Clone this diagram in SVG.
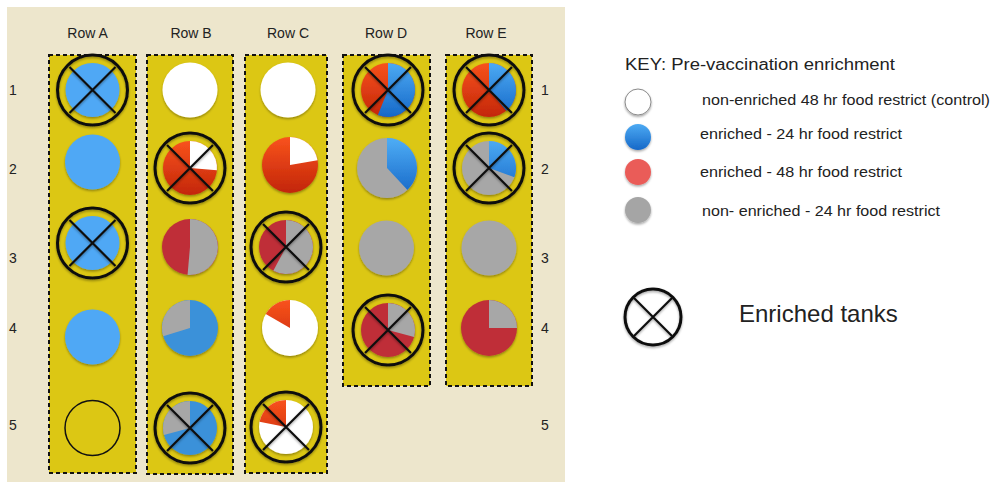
<svg xmlns="http://www.w3.org/2000/svg" width="992" height="482" viewBox="0 0 992 482">
<defs>
<linearGradient id="red" gradientUnits="userSpaceOnUse" x1="0" y1="-27" x2="0" y2="27"><stop offset="0" stop-color="#F8521C"/><stop offset="1" stop-color="#C3260A"/></linearGradient>
<linearGradient id="blue" gradientUnits="userSpaceOnUse" x1="0" y1="-27" x2="0" y2="27"><stop offset="0" stop-color="#4CAAF3"/><stop offset="1" stop-color="#1668C8"/></linearGradient>
<linearGradient id="kblue" gradientUnits="userSpaceOnUse" x1="0" y1="-13" x2="0" y2="13"><stop offset="0" stop-color="#4CAAF3"/><stop offset="1" stop-color="#1668C8"/></linearGradient>
<filter id="sh" x="-30%" y="-30%" width="160%" height="170%"><feDropShadow dx="0" dy="1.5" stdDeviation="1.2" flood-color="#000" flood-opacity="0.35"/></filter>
<g id="ring"><circle r="35" fill="none" stroke="#111" stroke-width="3"/><path d="M-23,-23L23,23M-23,23L23,-23" stroke="#111" stroke-width="2.2"/></g>
</defs>
<style>
.lbl{font-family:"Liberation Sans",Arial,sans-serif;font-size:14px;fill:#222}
.num{font-family:"Liberation Sans",Arial,sans-serif;font-size:14px;fill:#222}
.key{font-family:"Liberation Sans",Arial,sans-serif;fill:#222}
.box{fill:#DCC714;stroke:#111;stroke-width:2;stroke-dasharray:4 3}
.lb{fill:#4FA8F5}
.bf{fill:#3A91D9}
.bg{fill:url(#blue)}
.rg{fill:url(#red)}
.dr{fill:#BF2F38}
.gy{fill:#A7A7A7}
.wh{fill:#FFFFFF}
</style>
<rect x="0" y="0" width="992" height="482" fill="#FFFFFF"/>
<rect x="7" y="7" width="558" height="475" fill="#EDE6CC"/>

<g id="headers">
<text class="lbl" x="87.5" y="38" text-anchor="middle">Row A</text>
<text class="lbl" x="191" y="38" text-anchor="middle">Row B</text>
<text class="lbl" x="288" y="38" text-anchor="middle">Row C</text>
<text class="lbl" x="386" y="38" text-anchor="middle">Row D</text>
<text class="lbl" x="486" y="38" text-anchor="middle">Row E</text>
</g>
<g id="numbers">
<text class="num" x="13" y="95" text-anchor="middle">1</text>
<text class="num" x="13" y="174" text-anchor="middle">2</text>
<text class="num" x="13" y="263" text-anchor="middle">3</text>
<text class="num" x="13" y="333" text-anchor="middle">4</text>
<text class="num" x="13" y="430" text-anchor="middle">5</text>
<text class="num" x="545" y="95" text-anchor="middle">1</text>
<text class="num" x="545" y="174" text-anchor="middle">2</text>
<text class="num" x="545" y="263" text-anchor="middle">3</text>
<text class="num" x="545" y="333" text-anchor="middle">4</text>
<text class="num" x="545" y="430" text-anchor="middle">5</text>
</g>

<g id="boxes">
<rect class="box" x="49" y="55" width="87" height="418"/>
<rect class="box" x="147" y="55" width="86" height="419"/>
<rect class="box" x="245" y="55" width="82" height="418"/>
<rect class="box" x="343" y="55" width="87" height="331"/>
<rect class="box" x="446" y="55" width="86" height="331"/>
</g>

<!-- Column A -->
<g id="A1" transform="translate(92.5,90)"><circle class="lb" r="27" filter="url(#sh)"/><use href="#ring" filter="url(#sh)"/></g>
<g id="A2" transform="translate(92.5,162)"><circle class="lb" r="27.5" filter="url(#sh)"/></g>
<g id="A3" transform="translate(92.5,243)"><circle class="lb" r="27" filter="url(#sh)"/><use href="#ring" filter="url(#sh)"/></g>
<g id="A4" transform="translate(92.5,337)"><circle class="lb" r="27.5" filter="url(#sh)"/></g>
<g id="A5" transform="translate(92.5,428)"><circle r="27.5" fill="none" stroke="#111" stroke-width="1.5"/></g>

<!-- Column B -->
<g id="B1" transform="translate(190,90)"><circle class="wh" r="27.5" filter="url(#sh)"/></g>
<g id="B2" transform="translate(190,168)"><g filter="url(#sh)"><circle class="rg" r="27"/><path class="wh" d="M0,0L0,-27A27,27 0 0 1 26.9,2.35Z"/></g><use href="#ring" filter="url(#sh)"/></g>
<g id="B3" transform="translate(190,247)"><g filter="url(#sh)"><circle class="dr" r="28"/><path class="gy" d="M0,0L0,-28A28,28 0 1 1 -2.44,27.9Z"/></g></g>
<g id="B4" transform="translate(190,328)"><g filter="url(#sh)"><circle class="bf" r="28"/><path class="gy" d="M0,0L-26.78,8.19A28,28 0 0 1 0,-28Z"/></g></g>
<g id="B5" transform="translate(190,428)"><g filter="url(#sh)"><circle class="bf" r="27"/><path class="gy" d="M0,0L-26.08,6.99A27,27 0 0 1 0,-27Z"/></g><use href="#ring" filter="url(#sh)"/></g>

<!-- Column C -->
<g id="C1" transform="translate(288,90)"><circle class="wh" r="27.5" filter="url(#sh)"/></g>
<g id="C2" transform="translate(290,165)"><g filter="url(#sh)"><circle class="rg" r="28"/><path class="wh" d="M0,0L0,-28A28,28 0 0 1 27.57,-4.86Z"/></g></g>
<g id="C3" transform="translate(286,247)"><g filter="url(#sh)"><circle class="dr" r="27"/><path class="gy" d="M0,0L0,-27A27,27 0 1 1 -12.68,23.84Z"/></g><use href="#ring" filter="url(#sh)"/></g>
<g id="C4" transform="translate(290,328)"><g filter="url(#sh)"><circle class="wh" r="28"/><path class="rg" d="M0,0L-24.25,-14A28,28 0 0 1 0,-28Z"/></g></g>
<g id="C5" transform="translate(286,427)"><g filter="url(#sh)"><circle class="wh" r="27"/><path class="rg" d="M0,0L-26.5,-5.15A27,27 0 0 1 0,-27Z"/></g><use href="#ring" filter="url(#sh)"/></g>

<!-- Column D -->
<g id="D1" transform="translate(388,90)"><g filter="url(#sh)"><circle class="rg" r="27"/><path class="bg" d="M0,0L0,-27A27,27 0 1 1 -10.11,25.03Z"/></g><use href="#ring" filter="url(#sh)"/></g>
<g id="D2" transform="translate(387,168)"><g filter="url(#sh)"><circle class="gy" r="30"/><path class="bg" d="M0,0L0,-30A30,30 0 0 1 20.46,21.94Z"/></g></g>
<g id="D3" transform="translate(386.5,248)"><circle class="gy" r="27.5" filter="url(#sh)"/></g>
<g id="D4" transform="translate(388,330)"><g filter="url(#sh)"><circle class="dr" r="27"/><path class="gy" d="M0,0L0,-27A27,27 0 0 1 26.08,6.99Z"/></g><use href="#ring" filter="url(#sh)"/></g>

<!-- Column E -->
<g id="E1" transform="translate(489,90)"><g filter="url(#sh)"><circle class="rg" r="27"/><path class="bg" d="M0,0L0,-27A27,27 0 0 1 17.36,20.68Z"/></g><use href="#ring" filter="url(#sh)"/></g>
<g id="E2" transform="translate(489,168)"><g filter="url(#sh)"><circle class="gy" r="27"/><path class="bg" d="M0,0L0,-27A27,27 0 0 1 25.37,9.23Z"/></g><use href="#ring" filter="url(#sh)"/></g>
<g id="E3" transform="translate(489,248)"><circle class="gy" r="27.5" filter="url(#sh)"/></g>
<g id="E4" transform="translate(489,328)"><g filter="url(#sh)"><circle class="dr" r="28"/><path class="gy" d="M0,0L0,-28A28,28 0 0 1 28,0Z"/></g></g>

<!-- Key -->
<g id="key">
<text class="key" x="625" y="70" font-size="16" textLength="270" lengthAdjust="spacingAndGlyphs">KEY: Pre-vaccination enrichment</text>
<g id="key-control" transform="translate(638,102)"><circle r="13" fill="#FFF" stroke="#8A8A8A" stroke-width="1" filter="url(#sh)"/></g>
<text class="key" x="702" y="105" font-size="14" textLength="288" lengthAdjust="spacingAndGlyphs">non-enriched 48 hr food restrict (control)</text>
<g id="key-e24" transform="translate(638,137)"><circle r="13" fill="url(#kblue)" filter="url(#sh)"/></g>
<text class="key" x="700" y="139" font-size="14" textLength="202" lengthAdjust="spacingAndGlyphs">enriched - 24 hr food restrict</text>
<g id="key-e48" transform="translate(638,172)"><circle r="13" fill="#EA5B58" filter="url(#sh)"/></g>
<text class="key" x="700" y="177" font-size="14" textLength="202" lengthAdjust="spacingAndGlyphs">enriched - 48 hr food restrict</text>
<g id="key-n24" transform="translate(638,210)"><circle r="13" fill="#A5A5A5" filter="url(#sh)"/></g>
<text class="key" x="702" y="216" font-size="14" textLength="238" lengthAdjust="spacingAndGlyphs">non- enriched - 24 hr food restrict</text>
</g>
<g id="key-enriched" transform="translate(653,317)">
<g filter="url(#sh)"><circle r="28" fill="none" stroke="#111" stroke-width="3"/><path d="M-19,-19L19,19M-19,19L19,-19" stroke="#111" stroke-width="2.2"/></g>
</g>
<text class="key" x="739" y="322" font-size="24">Enriched tanks</text>
</svg>
